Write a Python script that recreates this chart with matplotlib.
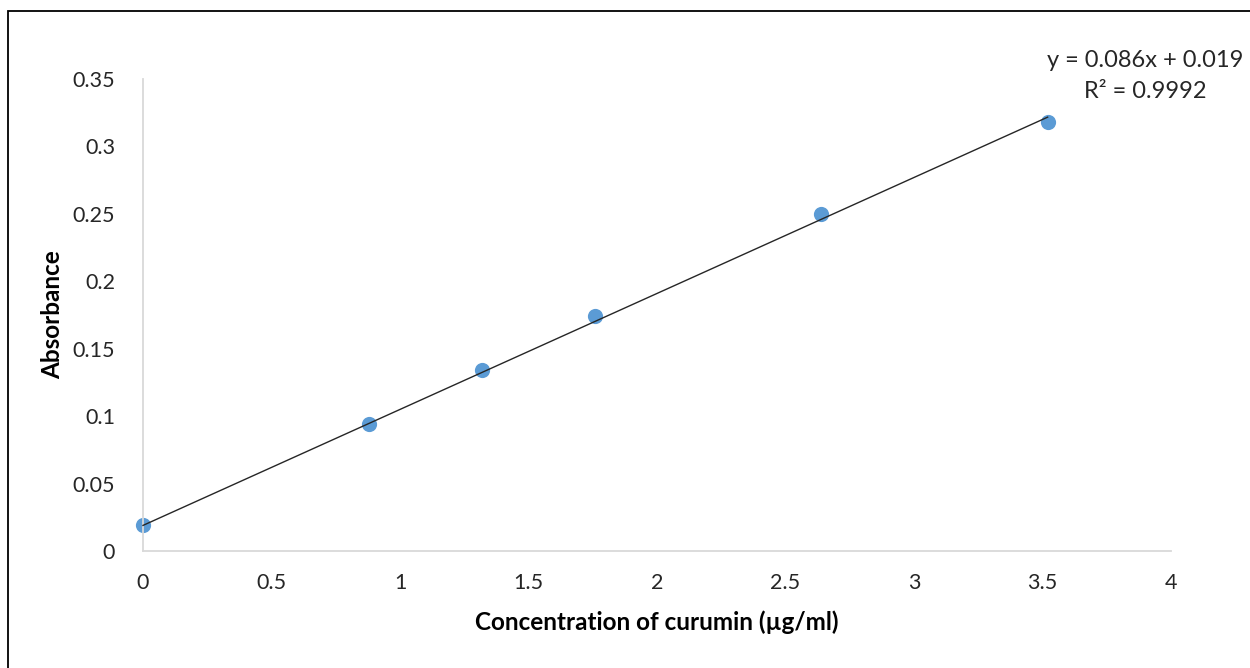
import numpy as np
import matplotlib.pyplot as plt
from matplotlib.patches import Rectangle

plt.rcParams['font.family'] = ['Lato', 'DejaVu Sans']

# standard curve readings
conc = [0, 0.88, 1.32, 1.76, 2.64, 3.52]
absorb = [0.019, 0.094, 0.134, 0.174, 0.250, 0.318]

# linear trendline as reported
slope = 0.086
intercept = 0.019
r2 = 0.9992

xticks = [0, 0.5, 1, 1.5, 2, 2.5, 3, 3.5, 4]
yticks = [0, 0.05, 0.1, 0.15, 0.2, 0.25, 0.3, 0.35]

fig = plt.figure(figsize=(12.5, 6.68), dpi=100)
ax = fig.add_axes([0.1144, 0.1751, 0.8224, 0.7066])

ax.scatter(conc, absorb, s=120, color='#5b9bd5', zorder=2, linewidths=0, clip_on=False)
xs = np.array([min(conc), max(conc)])
ax.plot(xs, slope * xs + intercept, color='#262626', lw=1.0, zorder=3, clip_on=False)

ax.set_xlim(0, 4)
ax.set_ylim(0, 0.35)
ax.set_xticks(xticks)
ax.set_yticks(yticks)
ax.set_xticklabels([f'{t:g}' for t in xticks])
ax.set_yticklabels([f'{t:g}' for t in yticks])
ax.tick_params(length=0, labelsize=15.5, colors='#404040', labelcolor='#262626')
ax.tick_params(axis='x', pad=16)
ax.tick_params(axis='y', pad=20)

for side in ['top', 'right']:
    ax.spines[side].set_visible(False)
for side in ['left', 'bottom']:
    ax.spines[side].set_color('#d9d9d9')
    ax.spines[side].set_linewidth(1.3)

ax.set_xlabel('Concentration of curumin (µg/ml)', fontsize=17.5, fontweight='bold', labelpad=12)
ax.set_ylabel('Absorbance', fontsize=17.5, fontweight='bold', labelpad=6)

# trendline equation above the last point
ax.text(3.90, 0.364, f'y = {slope}x + {intercept}', ha='center', va='center',
        fontsize=17, color='#262626', clip_on=False)
ax.text(3.90, 0.3405, f'R² = {r2}', ha='center', va='center',
        fontsize=17, color='#262626', clip_on=False)

# outer chart frame
fig.patches.append(Rectangle((8 / 1250, -0.1), 1.2, 1 - 11 / 668 + 0.1,
                             transform=fig.transFigure, fill=False, edgecolor='black', lw=1.3))

fig.savefig('out.png', dpi=100)
